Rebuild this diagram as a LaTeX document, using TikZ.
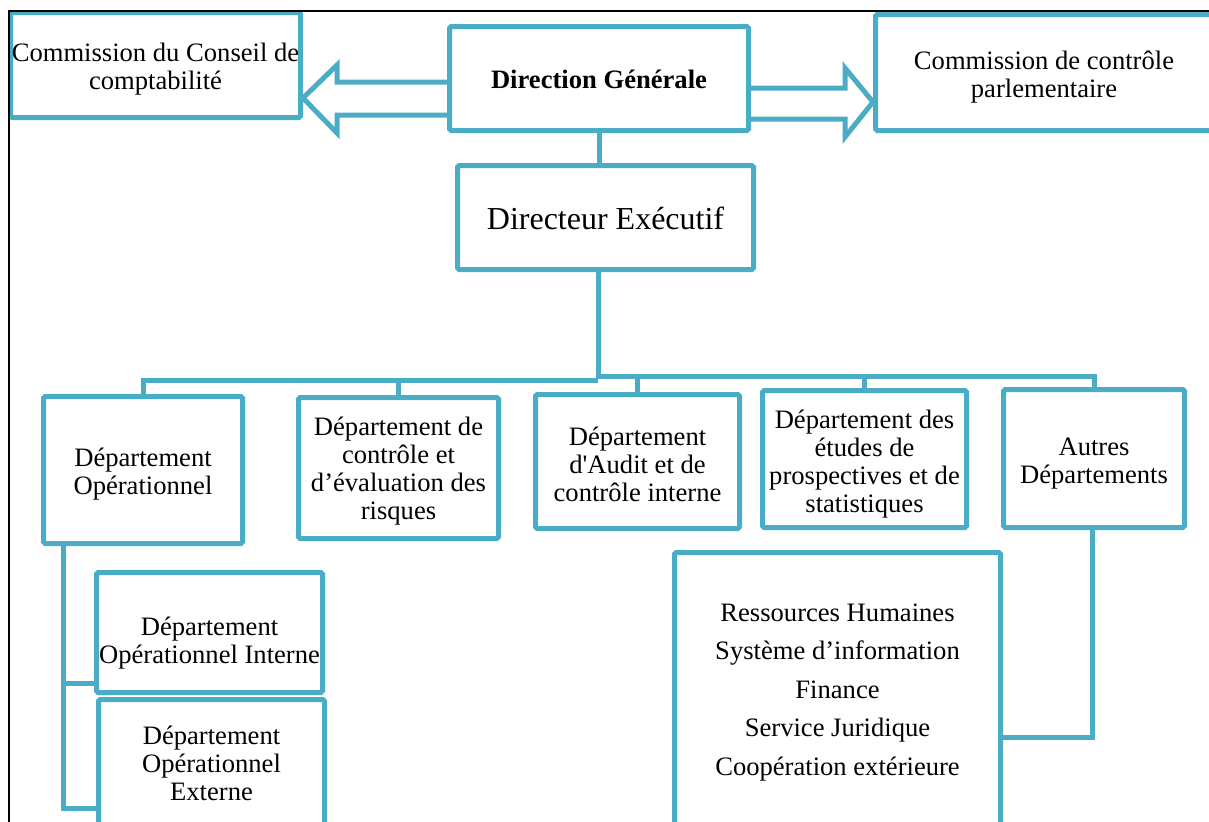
\documentclass[tikz,border=0pt]{standalone}
\usepackage{fontspec}
\setmainfont{Liberation Serif}[Ligatures=TeXOff]
\usetikzlibrary{backgrounds}
\definecolor{aqua}{RGB}{75,172,198}
\newcommand\tpad[1]{\rule{0pt}{#1}}
\begin{document}
\begin{tikzpicture}[x=0.5pt,y=-0.5pt,
  box/.style={draw=aqua, line width=2.5pt, fill=white, rounded corners=0.8pt, align=center, inner sep=0pt, font=\fontsize{13.3}{14}\selectfont},
  conn/.style={draw=aqua, line width=2.5pt},
  shadowline/.style={draw=black!35, line width=2.5pt, opacity=0.5, xshift=1.5pt, yshift=-1.5pt}]
\useasboundingbox (0,0) rectangle (1209,821);
\clip (0,0) rectangle (1209,821);

% boxes
\node[box, minimum width=145pt, minimum height=52.5pt] (CCC) at (155.5,65) {\tpad{13.6pt}Commission du Conseil de\\comptabilité};
\node[box, minimum width=149.5pt, minimum height=52pt, font=\bfseries\fontsize{13.3}{14}\selectfont] (DG) at (599,78.5) {\tpad{10.2pt}Direction Générale};
\node[box, minimum width=168.5pt, minimum height=58pt] (CCP) at (1044,72.5) {\tpad{14pt}Commission de contrôle\\parlementaire};
\node[box, minimum width=148pt, minimum height=52pt, font=\fontsize{16}{18}\selectfont] (DE) at (605.5,217.5) {\tpad{12pt}Directeur Exécutif};
\node[box, minimum width=99.5pt, minimum height=73.5pt] (DOp) at (143,470) {\tpad{13pt}Département\\Opérationnel};
\node[box, minimum width=100pt, minimum height=70.5pt] (DCtl) at (398.5,468) {\tpad{12pt}Département de\\contrôle et\\d’évaluation des\\risques};
\node[box, minimum width=102pt, minimum height=67pt] (Audit) at (637.5,461.5) {\tpad{12pt}Département\\d'Audit et de\\contrôle interne};
\node[box, minimum width=102pt, minimum height=68.5pt] (Etudes) at (864.5,459) {\tpad{14pt}Département des\\études de\\prospectives et de\\statistiques};
\node[box, minimum width=90.5pt, minimum height=69pt] (Autres) at (1094,458.5) {\tpad{14pt}Autres\\Départements};
\node[box, minimum width=113pt, minimum height=60pt] (Interne) at (209.5,632.5) {\tpad{20pt}Département\\Opérationnel Interne};
\node[box, minimum width=113pt, minimum height=64pt] (Externe) at (211.5,763.5) {Département\\Opérationnel\\Externe};
\node[box, minimum width=163pt, minimum height=137.5pt, font=\fontsize{13.3}{19.25}\selectfont] (Ress) at (837.5,690) {\tpad{11pt}Ressources Humaines\\Système d’information\\Finance\\Service Juridique\\Coopération extérieure};

% connectors and block arrows, behind the boxes
\begin{scope}[on background layer]
\coordinate (jR) at (598,376);
\coordinate (jL) at (598,380);
\coordinate (opB) at (63,808);
\coordinate (opI) at (63,683);
\coordinate (auB) at (1092,737);

\draw[conn, fill=white] (DG.west |- 0,82) -- (337,82) -- (337,65) -- (CCC.east |- 0,98) -- (337,133) -- (337,115) -- (DG.west |- 0,115);
\draw[conn, fill=white] (DG.east |- 0,88) -- (845,88) -- (845,68) -- (CCP.west |- 0,102) -- (845,137) -- (845,119) -- (DG.east |- 0,119);

\draw[conn] (DG.south) -- (DG.south |- DE.north);
\draw[conn] (DE.south -| jR) -- (jR) -- (jR -| Autres.north) -- (Autres.north);
\draw[conn] (jR -| Audit.north) -- (Audit.north);
\draw[conn] (jR -| Etudes.north) -- (Etudes.north);
\draw[conn] (jL) -- (jL -| DOp.north) -- (DOp.north);
\draw[conn] (jL -| DCtl.north) -- (DCtl.north);

\draw[shadowline] (DOp.south -| opB) -- (opB) -- (opB -| Externe.west);
\draw[shadowline] (opI) -- (opI -| Interne.west);
\draw[shadowline] (Autres.south -| auB) -- (auB) -- (auB -| Ress.east);
\draw[conn] (DOp.south -| opB) -- (opB) -- (opB -| Externe.west);
\draw[conn] (opI) -- (opI -| Interne.west);
\draw[conn] (Autres.south -| auB) -- (auB) -- (auB -| Ress.east);
\end{scope}

% page frame
\draw[black, line width=0.8pt] (1220,11) -- (9,11) -- (9,830);
\end{tikzpicture}
\end{document}
